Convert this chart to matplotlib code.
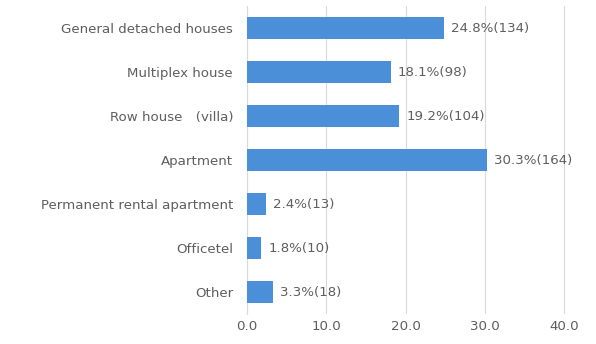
import matplotlib
matplotlib.use("Agg")
import matplotlib.pyplot as plt

categories = [
    "General detached houses",
    "Multiplex house",
    "Row house\u3000(villa)",
    "Apartment",
    "Permanent rental apartment",
    "Officetel",
    "Other",
]
percents = [24.8, 18.1, 19.2, 30.3, 2.4, 1.8, 3.3]
counts = [134, 98, 104, 164, 13, 10, 18]
xticks = [0, 10, 20, 30, 40]

plt.rcParams["font.family"] = ["DejaVu Sans", "Noto Sans CJK KR"]

bar_color = "#4a8fd8"
text_color = "#5e5e5e"
grid_color = "#d9d9d9"
fs = 9.6

fig = plt.figure(figsize=(5.96, 3.44), dpi=100)
ax = fig.add_axes([0.4144, 0.0872, 0.5856, 0.8953])

y = list(range(len(categories)))
ax.barh(y, percents, height=0.48, color=bar_color, zorder=3)

for yi, p, c in zip(y, percents, counts):
    ax.annotate(f"{p:.1f}%({c})", xy=(p, yi), xytext=(5, 0),
                textcoords="offset points", va="center", ha="left",
                fontsize=fs, color=text_color)

ax.set_xlim(0, 44)
ax.set_ylim(len(categories) - 0.5, -0.5)
ax.set_yticks(y)
ax.set_yticklabels(categories, fontsize=fs, color=text_color)
ax.set_xticks(xticks)
ax.set_xticklabels([f"{t:.1f}" for t in xticks], fontsize=fs, color=text_color)

ax.grid(axis="x", color=grid_color, linewidth=0.8, zorder=0)
ax.tick_params(axis="y", length=0, pad=10)
ax.tick_params(axis="x", length=0, pad=4)
for side in ["top", "right", "bottom"]:
    ax.spines[side].set_visible(False)
ax.spines["left"].set_color(grid_color)
ax.spines["left"].set_linewidth(0.8)

fig.savefig("out.png", dpi=100, facecolor="white")
